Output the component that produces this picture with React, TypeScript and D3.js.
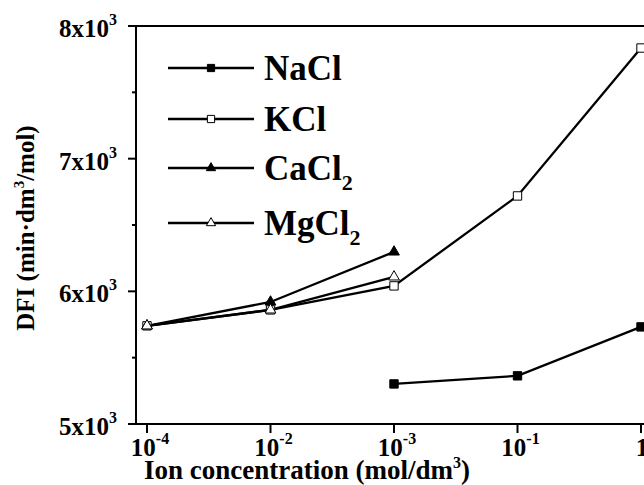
import * as d3 from "d3";

const categories = ["1e-4", "1e-2", "1e-3", "1e-1", "1"];
const tickExponents = ["-4", "-2", "-3", "-1", ""];

const naclValues = [null, null, 5302, 5363, 5732];
const kclValues = [5740, 5860, 6041, 6719, 7834];
const cacl2Values = [5740, 5920, 6297, null, null];
const mgcl2Values = [5740, 5860, 6109, null, null];

const yMajorTicks = [5000, 6000, 7000, 8000];
const yMinorTicks = [5500, 6500, 7500];

const FONT = '"Liberation Serif", "Times New Roman", "DejaVu Serif", serif';

type Series = {
  name: string;
  sub?: string;
  values: (number | null)[];
  shape: "square" | "triangle";
  filled: boolean;
};

const series: Series[] = [
  { name: "NaCl", values: naclValues, shape: "square", filled: true },
  { name: "KCl", values: kclValues, shape: "square", filled: false },
  { name: "CaCl", sub: "2", values: cacl2Values, shape: "triangle", filled: true },
  { name: "MgCl", sub: "2", values: mgcl2Values, shape: "triangle", filled: false },
];

const W = 644;
const H = 485;
const PLOT = { left: 136, top: 26, bottom: 424, right: 660 };

const markerPath = (shape: string, scale = 1) => {
  const s =
    shape === "square"
      ? d3.symbol(d3.symbolSquare, 70 * scale)
      : d3.symbol(d3.symbolTriangle, 50 * scale);
  return s() || "";
};

const txt = { fontFamily: FONT, fontWeight: 700 } as const;

export default function App() {
  const x = d3.scalePoint<string>().domain(categories).range([147, 641]);
  const y = d3.scaleLinear().domain([5000, 8000]).range([PLOT.bottom, PLOT.top]);

  const line = d3
    .line<number | null>()
    .defined((d) => d !== null)
    .x((_, i) => x(categories[i]) as number)
    .y((d) => y(d as number));

  const legendRows = [68, 119, 168, 223];

  return (
    <svg
      width={W}
      height={H}
      style={{ position: "absolute", left: 0, top: 0, background: "#fff" }}
    >
      {/* frame */}
      <line x1={PLOT.left} x2={PLOT.right} y1={PLOT.top} y2={PLOT.top} stroke="#000" strokeWidth={2} />
      <line x1={PLOT.left} x2={PLOT.right} y1={PLOT.bottom} y2={PLOT.bottom} stroke="#000" strokeWidth={2} />
      <line x1={PLOT.left} x2={PLOT.left} y1={PLOT.top} y2={PLOT.bottom} stroke="#000" strokeWidth={2} />

      {/* y ticks */}
      {yMajorTicks.map((t) => (
        <g key={t}>
          <line x1={PLOT.left - 8} x2={PLOT.left} y1={y(t)} y2={y(t)} stroke="#000" strokeWidth={2} />
          <text x={117} y={y(t) + 11} textAnchor="end" fontSize={25} style={txt}>
            {`${t / 1000}x10`}
            <tspan dy={-12} fontSize={16}>3</tspan>
          </text>
        </g>
      ))}
      {yMinorTicks.map((t) => (
        <line key={t} x1={PLOT.left - 4} x2={PLOT.left} y1={y(t)} y2={y(t)} stroke="#000" strokeWidth={2} />
      ))}

      {/* x ticks */}
      {categories.map((c, i) => (
        <g key={c}>
          <line x1={x(c)} x2={x(c)} y1={PLOT.bottom} y2={PLOT.bottom + 9} stroke="#000" strokeWidth={2} />
          <text x={(x(c) as number) + (tickExponents[i] ? 3 : 1)} y={456} textAnchor="middle" fontSize={25} style={txt}>
            {tickExponents[i] ? "10" : "1"}
            {tickExponents[i] && (
              <tspan dy={-12} fontSize={16}>{tickExponents[i]}</tspan>
            )}
          </text>
        </g>
      ))}

      {/* axis titles */}
      <text x={307} y={479} textAnchor="middle" fontSize={27} style={txt}>
        Ion concentration (mol/dm<tspan dy={-11} fontSize={16}>3</tspan>
        <tspan dy={11}>)</tspan>
      </text>
      <text transform="translate(34,228) rotate(-90)" textAnchor="middle" fontSize={25} style={txt}>
        DFI (min·dm<tspan dy={-10} fontSize={15}>3</tspan>
        <tspan dy={10}>/mol)</tspan>
      </text>

      {/* series lines */}
      {series.map((s) => (
        <path key={s.name + "l"} d={line(s.values) || ""} fill="none" stroke="#000" strokeWidth={2.3} />
      ))}
      {/* markers */}
      {series.map((s) =>
        s.values.map((v, i) =>
          v === null ? null : (
            <path
              key={s.name + i}
              d={markerPath(s.shape)}
              transform={`translate(${x(categories[i])},${y(v)})`}
              fill={s.filled ? "#000" : "#fff"}
              stroke="#000"
              strokeWidth={1}
            />
          )
        )
      )}

      {/* legend */}
      {series.map((s, i) => (
        <g key={s.name + "leg"} transform={`translate(0,${legendRows[i]})`}>
          <line x1={168} x2={254} y1={0} y2={0} stroke="#000" strokeWidth={2.3} />
          <path
            d={markerPath(s.shape, 0.75)}
            transform="translate(211,0)"
            fill={s.filled ? "#000" : "#fff"}
            stroke="#000"
            strokeWidth={1}
          />
          <text x={264} y={12} fontSize={35} style={txt}>
            {s.name}
            {s.sub && (
              <tspan dy={10} fontSize={22}>{s.sub}</tspan>
            )}
          </text>
        </g>
      ))}
    </svg>
  );
}
